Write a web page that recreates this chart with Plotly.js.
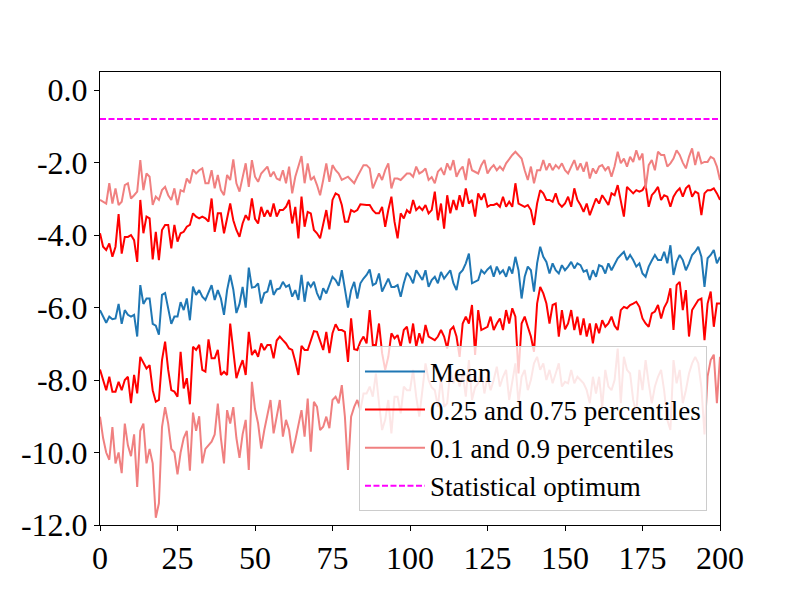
<!DOCTYPE html>
<html>
<head>
<meta charset="utf-8">
<script src="https://cdn.plot.ly/plotly-3.0.1.min.js"></script>
<style>
  body { margin: 0; background: #fff; }
  #graph { width: 800px; height: 600px; }
</style>
</head>
<body>
<div id="graph"></div>
<script>
// values, one per iteration 0..200
var meanVals = [
  -6.07, -6.25, -6.42, -6.25, -6.32, -6.30, -5.90, -6.45, -6.07, -6.20,
  -6.25, -6.20, -6.80, -5.38, -5.90, -5.75, -5.75, -6.45, -6.50, -6.75,
  -5.65, -5.60, -6.07, -6.45, -6.25, -6.25, -5.85, -6.07, -5.75, -6.35,
  -5.42, -5.65, -5.52, -5.70, -5.79, -5.60, -5.38, -5.79, -5.52, -5.75,
  -6.20, -5.52, -5.10, -5.50, -6.15, -5.90, -5.43, -6.00, -4.90, -5.45,
  -5.43, -5.33, -5.89, -5.60, -5.56, -5.24, -5.65, -5.50, -5.47, -5.29,
  -5.43, -5.38, -5.70, -5.52, -5.79, -5.10, -5.84, -5.29, -5.43, -5.29,
  -5.60, -5.79, -5.47, -5.61, -5.38, -5.15, -5.24, -5.40, -4.97, -5.43,
  -6.00, -5.52, -5.29, -5.75, -5.33, -5.20, -5.10, -4.95, -5.38, -5.33,
  -5.06, -5.56, -5.38, -5.20, -5.43, -5.43, -5.38, -5.70, -5.33, -5.04,
  -5.15, -5.33, -4.97, -5.10, -5.24, -4.97, -5.43, -5.24, -5.15, -5.33,
  -5.02, -5.20, -5.10, -4.97, -5.33, -5.52, -5.06, -4.97, -4.78, -4.51,
  -5.33, -5.29, -5.24, -4.97, -5.06, -4.95, -4.87, -5.15, -4.87, -5.06,
  -4.97, -5.15, -4.87, -5.06, -4.60, -4.97, -5.75, -5.15, -4.87, -4.97,
  -5.56, -4.78, -4.32, -4.60, -4.74, -5.06, -4.78, -4.97, -5.06, -4.83,
  -4.97, -4.87, -4.74, -4.92, -4.78, -4.83, -5.01, -4.97, -5.24, -4.97,
  -5.15, -4.83, -4.87, -5.06, -4.78, -4.97, -4.80, -4.64, -4.55, -4.46,
  -4.69, -4.55, -4.69, -4.87, -4.78, -5.06, -5.15, -4.87, -4.70, -4.55,
  -4.69, -4.69, -4.46, -4.78, -4.28, -5.10, -4.74, -4.55, -4.69, -4.97,
  -4.78, -4.55, -4.46, -4.32, -4.60, -5.43, -4.64, -4.55, -4.41, -4.78,
  -4.60
];

var p75Vals = [
  -3.95, -4.32, -4.41, -4.23, -4.60, -4.32, -3.42, -4.51, -4.05, -4.05,
  -4.00, -4.14, -4.74, -3.03, -3.95, -3.49, -3.54, -4.67, -3.91, -4.69,
  -3.86, -3.72, -3.72, -4.37, -3.72, -4.18, -3.95, -3.91, -3.77, -3.72,
  -3.40, -3.49, -3.54, -3.49, -3.54, -3.63, -2.99, -3.91, -3.40, -3.40,
  -3.95, -3.49, -3.13, -3.59, -3.86, -4.05, -3.68, -3.45, -3.59, -2.99,
  -3.55, -3.68, -3.22, -3.49, -3.31, -3.49, -3.13, -3.49, -3.31, -3.31,
  -3.22, -3.03, -3.68, -3.22, -4.09, -2.94, -3.77, -3.36, -3.40, -3.86,
  -3.95, -4.09, -3.68, -3.31, -3.84, -3.03, -2.85, -2.90, -3.17, -3.63,
  -3.63, -3.31, -3.36, -3.31, -3.15, -3.17, -3.17, -3.17, -3.31, -3.40,
  -3.40, -3.22, -3.77, -3.31, -2.94, -3.63, -4.09, -3.40, -3.54, -3.31,
  -3.40, -3.03, -3.31, -3.22, -3.31, -3.17, -3.40, -3.31, -2.80, -3.59,
  -3.13, -3.82, -2.90, -3.40, -3.03, -3.31, -2.90, -3.22, -2.71, -3.13,
  -3.03, -3.49, -2.85, -3.03, -2.85, -3.22, -3.17, -3.17, -3.13, -3.22,
  -2.94, -3.22, -3.08, -3.22, -2.57, -3.13, -3.17, -3.22, -3.17, -3.31,
  -3.72, -3.13, -2.76, -2.85, -3.03, -3.03, -3.08, -2.85, -3.13, -3.22,
  -3.13, -2.94, -3.22, -2.71, -3.03, -3.17, -3.36, -3.13, -3.45, -3.22,
  -2.99, -3.13, -2.90, -3.03, -3.17, -2.85, -2.90, -2.62, -3.03, -3.49,
  -2.67, -2.76, -2.85, -2.76, -2.80, -2.76, -2.62, -3.22, -2.90, -2.80,
  -2.67, -3.03, -2.90, -2.94, -3.22, -2.94, -2.80, -2.71, -2.94, -2.71,
  -2.62, -2.94, -2.80, -2.85, -3.45, -2.85, -2.76, -2.76, -2.71, -2.85,
  -3.03
];

var p25Vals = [
  -7.71, -8.00, -8.28, -7.91, -8.32, -8.32, -8.05, -8.28, -8.00, -7.91,
  -8.64, -7.86, -8.37, -7.36, -7.54, -7.68, -7.59, -8.28, -8.60, -8.55,
  -7.45, -6.94, -7.72, -8.28, -8.32, -8.46, -7.22, -8.23, -7.95, -8.67,
  -7.08, -7.17, -7.03, -7.72, -7.77, -6.88, -7.40, -7.40, -7.17, -7.86,
  -7.77, -7.86, -6.44, -7.26, -7.95, -7.68, -7.45, -7.86, -6.67, -7.31,
  -7.17, -7.36, -6.99, -7.17, -7.03, -7.03, -7.40, -6.91, -6.80, -6.90,
  -6.99, -7.13, -7.17, -7.49, -7.86, -7.06, -7.17, -7.17, -6.88, -6.65,
  -6.67, -6.90, -7.17, -6.67, -7.26, -6.71, -6.46, -6.62, -6.62, -6.67,
  -7.50, -6.30, -7.15, -7.17, -6.94, -6.80, -6.99, -6.07, -7.03, -7.03,
  -6.44, -7.26, -7.72, -7.36, -6.71, -6.85, -6.76, -7.08, -6.62, -6.53,
  -6.99, -6.44, -7.08, -6.71, -6.99, -6.48, -6.80, -6.85, -6.90, -6.80,
  -6.62, -6.80, -7.13, -6.62, -6.53, -6.80, -7.36, -6.44, -6.25, -6.44,
  -5.93, -7.31, -6.07, -6.62, -6.57, -6.53, -6.25, -6.62, -6.44, -6.30,
  -6.62, -6.07, -6.44, -6.02, -6.25, -7.82, -6.44, -6.25, -6.53, -6.80,
  -7.22, -5.89, -5.43, -5.61, -5.89, -6.44, -5.93, -5.89, -6.80, -6.07,
  -6.60, -6.44, -6.07, -6.62, -6.25, -6.76, -6.30, -6.80, -6.44, -6.99,
  -6.44, -6.71, -6.35, -6.53, -6.44, -6.25, -6.50, -6.62, -6.07, -5.98,
  -6.02, -5.93, -5.89, -5.84, -5.98, -6.30, -6.44, -6.53, -6.16, -6.11,
  -5.93, -6.30, -6.00, -5.84, -5.47, -6.62, -5.38, -5.29, -6.07, -5.52,
  -6.80, -6.07, -5.93, -5.79, -5.75, -6.90, -5.89, -5.56, -6.53, -5.89,
  -5.89
];

var p90Vals = [
  -3.03, -3.08, -3.13, -2.57, -3.13, -2.71, -3.17, -3.08, -2.62, -2.57,
  -2.99, -2.90, -2.80, -1.93, -2.76, -2.30, -2.39, -3.17, -2.94, -3.03,
  -2.76, -2.67, -2.90, -3.03, -2.71, -3.17, -2.76, -2.80, -2.44, -2.57,
  -2.19, -2.30, -2.21, -2.16, -2.57, -2.57, -2.21, -2.71, -2.34, -2.76,
  -2.90, -2.34, -2.48, -1.91, -2.57, -2.80, -2.39, -2.02, -2.67, -1.93,
  -2.39, -2.53, -2.30, -2.21, -2.11, -2.39, -2.25, -2.44, -2.48, -2.21,
  -2.57, -2.11, -2.85, -2.39, -2.11, -1.82, -2.57, -2.02, -2.48, -2.39,
  -2.62, -2.90, -2.48, -2.02, -2.53, -2.07, -2.21, -2.30, -2.48, -2.44,
  -2.39, -2.48, -2.57, -2.39, -2.21, -2.07, -2.07, -2.16, -2.71, -2.48,
  -2.30, -2.48, -2.21, -2.02, -2.71, -2.44, -2.44, -2.48, -2.39, -2.30,
  -2.30, -2.39, -2.11, -2.30, -2.25, -2.16, -2.48, -2.40, -2.57, -2.25,
  -2.16, -2.34, -2.02, -2.21, -1.93, -2.39, -2.21, -2.11, -2.48, -1.89,
  -2.21, -2.25, -2.30, -2.07, -1.93, -2.30, -2.16, -2.07, -2.21, -2.11,
  -2.21, -2.02, -1.89, -1.79, -1.70, -1.80, -1.89, -2.21, -2.48, -2.11,
  -2.57, -2.21, -2.21, -1.93, -2.21, -2.02, -2.21, -2.07, -2.16, -2.02,
  -2.21, -2.30, -2.11, -1.93, -2.21, -2.02, -2.25, -1.98, -2.44, -2.16,
  -2.30, -2.11, -2.07, -2.21, -2.11, -2.39, -2.10, -1.70, -2.02, -1.89,
  -2.11, -1.84, -1.98, -1.66, -1.93, -1.75, -2.71, -2.07, -1.93, -2.21,
  -1.70, -1.79, -1.79, -2.11, -2.02, -1.89, -1.66, -1.79, -2.00, -2.16,
  -1.84, -1.61, -2.07, -1.70, -2.02, -1.98, -1.98, -1.84, -1.89, -2.11,
  -2.48
];

var p10Vals = [
  -9.01, -9.60, -10.00, -10.20, -9.30, -10.30, -10.00, -10.57, -9.20, -9.80,
  -10.10, -9.50, -10.95, -9.40, -9.20, -10.30, -9.90, -10.30, -11.80, -11.40,
  -9.30, -8.75, -9.20, -9.90, -10.00, -10.60, -10.00, -9.60, -9.40, -10.50,
  -8.90, -9.40, -9.00, -10.30, -9.90, -9.80, -9.70, -9.50, -8.65, -9.60,
  -10.30, -8.83, -9.20, -8.75, -9.60, -10.15, -9.50, -9.10, -10.48, -8.05,
  -8.80, -9.20, -9.89, -9.38, -9.01, -8.55, -9.47, -9.01, -8.55, -9.56,
  -9.10, -9.38, -10.02, -9.66, -9.20, -8.83, -9.56, -8.51, -9.98, -8.60,
  -8.74, -9.38, -9.29, -9.01, -9.33, -8.55, -8.46, -8.64, -8.14, -9.01,
  -10.48, -9.01, -8.74, -8.55, -8.83, -8.37, -8.37, -8.18, -8.46, -7.82,
  -8.64, -9.38, -9.10, -8.55, -9.47, -8.46, -8.46, -8.92, -8.18, -8.28,
  -8.28, -7.72, -8.46, -9.01, -8.28, -7.54, -8.00, -8.20, -8.28, -8.74,
  -7.91, -8.74, -8.64, -7.72, -8.09, -7.72, -8.18, -7.82, -8.46, -7.45,
  -8.55, -8.20, -8.09, -7.72, -8.37, -7.91, -8.28, -8.00, -7.63, -8.18,
  -7.91, -7.72, -8.55, -8.09, -7.54, -8.64, -7.91, -7.72, -8.28, -8.00,
  -7.54, -7.36, -7.72, -7.54, -8.00, -7.72, -8.09, -7.82, -7.54, -8.18,
  -8.05, -8.09, -7.72, -8.09, -7.91, -8.00, -8.09, -8.28, -8.64, -7.91,
  -8.37, -7.91, -8.74, -7.72, -8.18, -8.28, -8.00, -7.13, -8.64, -7.36,
  -7.72, -7.82, -8.55, -8.92, -7.72, -8.28, -7.45, -8.09, -8.64, -8.18,
  -7.91, -7.72, -8.30, -9.10, -9.38, -7.45, -8.09, -7.72, -8.64, -8.28,
  -7.82, -7.54, -7.36, -7.54, -8.20, -9.50, -7.90, -7.45, -7.30, -8.64,
  -7.36
];

var optimumX = [0, 200];
var optimumY = [-0.8, -0.8];

var xTickVals = [0, 25, 50, 75, 100, 125, 150, 175, 200];
var yTickVals = [0, -2, -4, -6, -8, -10, -12];
var yTickText = ['0.0', '-2.0', '-4.0', '-6.0', '-8.0', '-10.0', '-12.0'];

var serif = "'Liberation Serif', 'Times New Roman', Times, 'DejaVu Serif', serif";

function series(vals, name, color, show) {
    return {
        y: vals, x0: 0, dx: 1,
        type: 'scatter', mode: 'lines',
        name: name, legendgroup: name, showlegend: show,
        line: {color: color, width: 2},
        hoverinfo: 'skip'
    };
}

var data = [
    series(meanVals, 'Mean', '#1f77b4', true),
    series(p75Vals, '0.25 and 0.75 percentiles', '#ff0000', true),
    series(p25Vals, '0.25 and 0.75 percentiles', '#ff0000', false),
    series(p90Vals, '0.1 and 0.9 percentiles', '#f08080', true),
    series(p10Vals, '0.1 and 0.9 percentiles', '#f08080', false),
    {
        x: optimumX, y: optimumY,
        type: 'scatter', mode: 'lines',
        name: 'Statistical optimum',
        line: {color: '#ff00ff', width: 2, dash: '6px,2.5px'},
        hoverinfo: 'skip'
    }
];

var axisBase = {
    showgrid: false, zeroline: false,
    showline: true, linecolor: '#000', linewidth: 1, mirror: true,
    ticks: 'outside', ticklen: 5, tickwidth: 1, tickcolor: '#000',
    tickfont: {family: serif, size: 32, color: '#000'}
};

var layout = {
    width: 800, height: 600,
    margin: {l: 100, r: 80, t: 72, b: 75},
    paper_bgcolor: '#fff', plot_bgcolor: '#fff',
    font: {family: serif, color: '#000'},
    xaxis: Object.assign({}, axisBase, {
        range: [0, 200], tickvals: xTickVals
    }),
    yaxis: Object.assign({}, axisBase, {
        range: [-12, 0.5], tickvals: yTickVals, ticktext: yTickText
    }),
    legend: {
        x: 0.979, y: 0.03, xanchor: 'right', yanchor: 'bottom',
        bgcolor: 'rgba(255,255,255,0.8)', bordercolor: '#cccccc', borderwidth: 1,
        font: {family: serif, size: 27, color: '#000'},
        itemwidth: 60, tracegroupgap: 0
    },
    showlegend: true
};

Plotly.newPlot('graph', data, layout, {staticPlot: true});
</script>
</body>
</html>
